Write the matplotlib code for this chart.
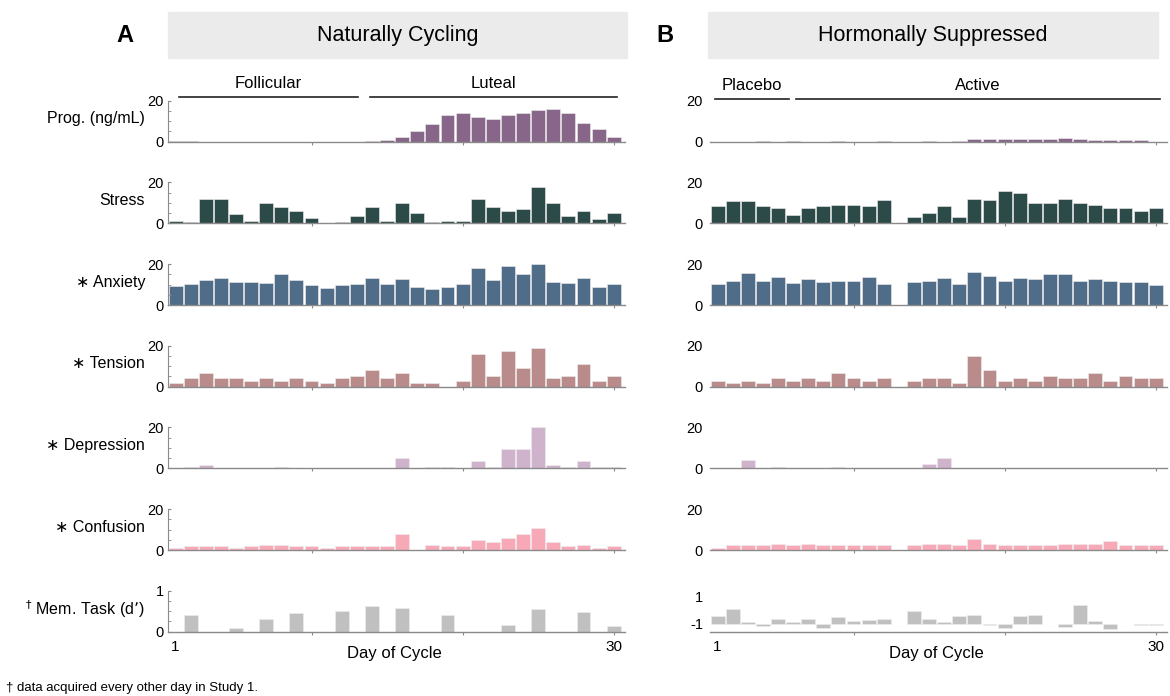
"""
Mood and progesterone across the cycle, two panels
"""

import numpy as np
import matplotlib.pyplot as plt
import matplotlib as mpl
from matplotlib.patches import Rectangle

mpl.rcParams['font.family'] = ['Liberation Sans', 'DejaVu Sans']

days = np.arange(1, 31)

# panel A - naturally cycling
prog_a = [0.5, 0.5, 0, 0, 0, 0, 0, 0, 0, 0, 0, 0, 0, 0.4, 0.8, 2.3, 5.3, 8.8, 13, 13.8,
          12.2, 11.2, 13, 13.8, 15.7, 16, 13.8, 9.2, 6.2, 2.2]
stress_a = [1.1, 0.5, 11.8, 11.8, 4.5, 1.1, 9.9, 7.8, 6.1, 2.7, 0, 0.5, 3.7, 7.8, 1.1, 9.9,
            5.1, 0.5, 1.1, 1.1, 11.8, 7.8, 5.9, 7.0, 17.6, 9.9, 3.7, 6.1, 1.9, 5.1]
anxiety_a = [9.4, 10.4, 12.3, 13.1, 11.2, 11.2, 10.7, 14.9, 12.3, 9.8, 8.3, 9.8, 10.4, 13.1,
             10.1, 12.8, 8.8, 8.0, 8.6, 10.1, 18.2, 12.0, 19.2, 14.9, 20.0, 11.2, 10.7, 13.1,
             8.6, 10.4]
tension_a = [1.6, 4.1, 6.8, 4.1, 4.1, 2.8, 4.1, 2.8, 4.1, 2.8, 1.6, 4.1, 5.4, 8.3, 4.1, 6.8,
             1.6, 1.6, 0, 2.8, 15.9, 5.4, 17.6, 9.3, 19.0, 4.1, 5.4, 10.9, 2.8, 5.4]
depression_a = [0, 0.6, 1.8, 0, 0, 0, 0, 0.6, 0, 0, 0, 0, 0, 0, 0, 4.9, 0, 0.6, 0.6, 0,
                3.7, 0.6, 9.6, 9.6, 20.0, 1.8, 0.6, 3.7, 0.6, 0.6]
confusion_a = [1, 2, 2, 2, 1, 2, 2.6, 2.6, 2, 2, 1, 2, 2, 2, 2, 7.8, 0, 2.6, 2, 2,
               5, 3.7, 6, 7.8, 10.7, 3.7, 2, 2.6, 1, 2]
n = np.nan
memory_a = [n, 0.42, n, n, 0.08, n, 0.32, n, 0.45, n, n, 0.5, n, 0.62, n, 0.59, n, n, 0.42, n,
            n, n, 0.16, n, 0.56, n, n, 0.49, n, 0.14]

# panel B - hormonally suppressed
prog_b = [0, 0, 0, 0.5, 0, 0.5, 0, 0, 0.5, 0, 0, 0.5, 0, 0, 0.5, 0, 0.4, 1.5, 1.5, 1.5,
          1.5, 1.5, 1.2, 1.6, 1.2, 1.0, 1.0, 0.7, 0.7, 0]
stress_b = [8.5, 10.7, 10.7, 8.5, 7.7, 4.3, 7.4, 8.5, 9.1, 9.1, 8.5, 11.4, 0, 3.2, 5.1, 8.5,
            3.2, 11.8, 11.4, 15.8, 15.0, 9.9, 9.9, 11.8, 9.9, 9.1, 7.7, 7.4, 5.8, 7.7]
anxiety_b = [10.2, 11.5, 15.7, 11.5, 13.9, 10.6, 12.8, 11.0, 11.5, 11.5, 13.6, 10.2, 0, 11.0,
             11.5, 13.3, 10.2, 16.2, 14.4, 11.8, 13.3, 12.8, 15.0, 15.0, 11.5, 12.8, 11.8,
             11.0, 11.0, 9.9]
tension_b = [2.8, 1.8, 2.8, 1.8, 4.1, 2.8, 4.1, 2.8, 6.7, 4.1, 2.8, 4.1, 0, 2.8, 4.1, 4.1,
             1.8, 15.0, 8.3, 2.8, 4.1, 2.8, 5.4, 4.1, 4.1, 6.7, 2.8, 5.4, 4.1, 4.1]
depression_b = [0, 0, 4.0, 0, 0.6, 0, 0, 0, 0.6, 0, 0, 0, 0, 0, 2.0, 5.0, 0, 0, 0, 0,
                0, 0, 0, 0, 0, 0, 0, 0, 0, 0]
confusion_b = [1.1, 2.4, 2.4, 2.4, 3.1, 2.4, 3.1, 2.4, 2.4, 2.4, 2.4, 2.4, 0, 2.4, 3.1, 3.1,
               2.4, 5.4, 3.1, 2.4, 2.4, 2.4, 2.4, 3.1, 3.1, 3.1, 4.2, 2.4, 2.4, 2.4]
memory_b = [-0.43, 0.11, -0.9, -1.17, -0.68, -0.9, -0.63, -1.32, -0.51, -0.83, -0.75, -0.65,
            n, -0.06, -0.63, -0.9, -0.46, -0.33, -1.12, -1.3, -0.46, -0.33, n, -1.25, 0.41,
            -0.83, -1.42, n, -1.1, -1.1]

row_labels = ["Prog. (ng/mL)", "Stress", "\u2217 Anxiety", "\u2217 Tension", "\u2217 Depression",
              "\u2217 Confusion", "$^{\\dagger}$ Mem. Task (d\u2019)"]
row_colors = ["#876689", "#2c4b48", "#4f6d88", "#b98b8b", "#cfb3cd", "#f8a9b8", "#c0c0c0"]
rows_a = [prog_a, stress_a, anxiety_a, tension_a, depression_a, confusion_a, memory_a]
rows_b = [prog_b, stress_b, anxiety_b, tension_b, depression_b, confusion_b, memory_b]

W, H = 1170, 696
fig = plt.figure(figsize=(W / 100, H / 100), dpi=100)

def px_axes(left, right, base, height=41):
    return fig.add_axes([left / W, 1 - base / H, (right - left) / W, height / H])

gray = "#8a8a8a"
for i in range(7):
    base = 141.7 + 81.67 * i
    for panel, (left, right, vals) in enumerate([(168, 625, rows_a[i]), (710, 1167, rows_b[i])]):
        ax = px_axes(left, right, base)
        vals = np.array(vals, dtype=float)
        if panel == 1 and i == 6:
            ax.bar(days, vals + 1, bottom=-1, width=0.92, color=row_colors[i],
                   edgecolor="#eeeeee", linewidth=0.4)
            ax.set_ylim(-1.6, 1.43)
            ax.set_yticks([-1, 1])
            ax.set_yticklabels(["-1", "1"])
        else:
            ax.bar(days, vals, width=0.92, color=row_colors[i], edgecolor="#eeeeee",
                   linewidth=0.4)
            top = 1 if i == 6 else 20
            ax.set_ylim(0, top)
            ax.set_yticks([0, top])
            ax.set_yticks(np.linspace(0, top, 5), minor=True)
        ax.set_xlim(0.5, 30.75)
        for s in ["top", "right"]:
            ax.spines[s].set_visible(False)
        ax.spines["bottom"].set_color(gray)
        ax.spines["bottom"].set_linewidth(1.0)
        ax.spines["left"].set_color(gray)
        ax.spines["left"].set_linewidth(0.8)
        ax.set_xticks([10, 20, 30])
        ax.tick_params(axis="x", length=2, color=gray, labelbottom=False)
        ax.tick_params(axis="y", which="both", direction="in", length=2, color=gray,
                       labelsize=10.5, pad=3)
        if panel == 1:
            ax.spines["left"].set_visible(False)
            ax.tick_params(axis="y", which="both", left=False, pad=5)
        if i == 6:
            ax.text(1, -0.2, "1", transform=ax.get_xaxis_transform(), ha="center", va="top",
                    fontsize=11)
            ax.text(30, -0.2, "30", transform=ax.get_xaxis_transform(), ha="center", va="top",
                    fontsize=11)
            ax.text(15.5, -0.35, "Day of Cycle", transform=ax.get_xaxis_transform(),
                    ha="center", va="top", fontsize=12)
        if i == 0:
            tr = ax.get_xaxis_transform()
            if panel == 0:
                phases = [(1.2, 13.1, "Follicular"), (13.9, 30.2, "Luteal")]
                ly, ty = 1.09, 1.42
            else:
                phases = [(0.85, 5.7, "Placebo"), (6.2, 30.3, "Active")]
                ly, ty = 1.04, 1.36
            for x0, x1, name in phases:
                ax.plot([x0, x1], [ly, ly], transform=tr, color="#222222", lw=1.2,
                        clip_on=False)
                ax.text((x0 + x1) / 2, ty, name, transform=tr, ha="center", va="center",
                        fontsize=12)
    fig.text(145 / W, 1 - (base - 23) / H, row_labels[i], ha="right", va="center", fontsize=11.5)

# panel headers
for x0, x1, title, letter, lx in [(168, 627, "Naturally Cycling", "A", 125),
                                  (708, 1158, "Hormonally Suppressed", "B", 665)]:
    fig.patches.append(Rectangle((x0 / W, 1 - 58 / H), (x1 - x0) / W, 46 / H,
                                 transform=fig.transFigure, color="#ebebeb", zorder=0))
    fig.text((x0 + x1) / 2 / W, 1 - 35 / H, title, ha="center", va="center", fontsize=15.5)
    fig.text(lx / W, 1 - 36 / H, letter, ha="center", va="center", fontsize=17,
             fontweight="bold")

fig.text(6 / W, 1 - 688 / H, "\u2020 data acquired every other day in Study 1.", ha="left",
         va="center", fontsize=9.5)

plt.savefig("out.png", dpi=100)
